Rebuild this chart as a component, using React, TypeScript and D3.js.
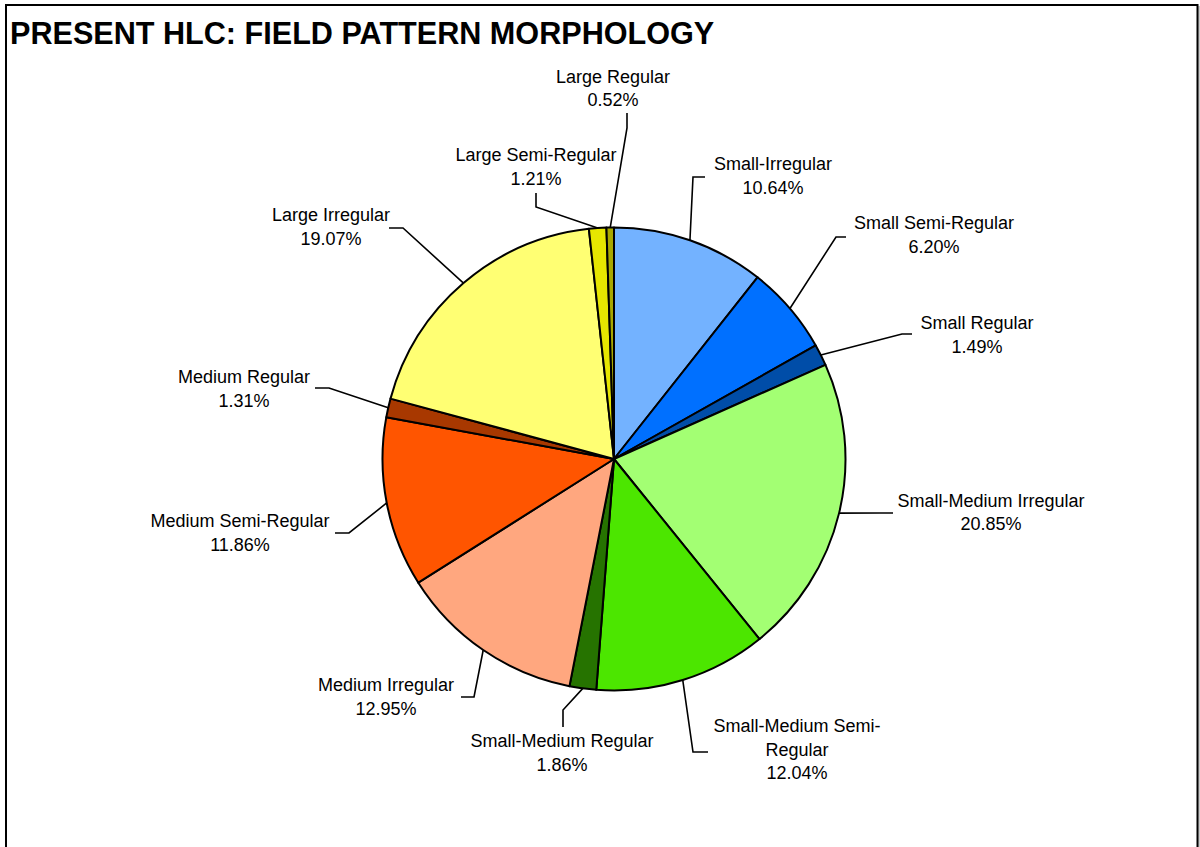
import React from "react";
import * as d3 from "d3";

// ---- data ----
const categories = [
  "Small-Irregular",
  "Small Semi-Regular",
  "Small Regular",
  "Small-Medium Irregular",
  "Small-Medium Semi-Regular",
  "Small-Medium Regular",
  "Medium Irregular",
  "Medium Semi-Regular",
  "Medium Regular",
  "Large Irregular",
  "Large Semi-Regular",
  "Large Regular",
];
const values = [10.64, 6.2, 1.49, 20.85, 12.04, 1.86, 12.95, 11.86, 1.31, 19.07, 1.21, 0.52];
const labelLines = [
  ["Small-Irregular"],
  ["Small Semi-Regular"],
  ["Small Regular"],
  ["Small-Medium Irregular"],
  ["Small-Medium Semi-", "Regular"],
  ["Small-Medium Regular"],
  ["Medium Irregular"],
  ["Medium Semi-Regular"],
  ["Medium Regular"],
  ["Large Irregular"],
  ["Large Semi-Regular"],
  ["Large Regular"],
];
const colors = [
  "#73B2FF", "#0070FF", "#004DA8",
  "#A3FF73", "#4CE600", "#267300",
  "#FFA77F", "#FF5500", "#A83800",
  "#FFFF73", "#E6E600", "#A8A800",
];
const title = "PRESENT HLC: FIELD PATTERN MORPHOLOGY";

// ---- layout (label placement, leader elbows) ----
const labelLayout: { x: number; y: number; pts: [number, number][] }[] = [
  { x: 773, y: 170, pts: [[705, 177], [693, 177]] },
  { x: 934, y: 229, pts: [[846, 237], [836, 237]] },
  { x: 977, y: 329, pts: [[912, 334], [902, 334]] },
  { x: 991, y: 506.5, pts: [[893, 513], [880, 513]] },
  { x: 797, y: 732, pts: [[708, 752], [693, 752]] },
  { x: 562, y: 747, pts: [[563, 727], [563, 710]] },
  { x: 386, y: 691, pts: [[461, 697], [474, 697]] },
  { x: 240, y: 527, pts: [[335, 533], [349, 533]] },
  { x: 244, y: 383, pts: [[315, 388], [329, 388]] },
  { x: 331, y: 221, pts: [[389, 228], [403, 228]] },
  { x: 536, y: 161, pts: [[536, 193], [536, 207]] },
  { x: 613, y: 82.5, pts: [[627, 113], [627, 128]] },
];

const W = 1200;
const H = 847;
const cx = 614;
const cy = 459;
const R = 231.5;
const lineH = 23.7;
const FONT = "Arial, 'Liberation Sans', sans-serif";

export default function App() {
  const pie = d3.pie<number>().sort(null).value((d) => d)(values);
  const arc = d3.arc<d3.PieArcDatum<number>>().innerRadius(0).outerRadius(R);
  const edgeArc = d3.arc<d3.PieArcDatum<number>>().innerRadius(R).outerRadius(R);
  const line = d3.line();

  return (
    <svg
      width={W}
      height={H}
      style={{ position: "absolute", left: 0, top: 0, background: "#fff" }}
      fontFamily={FONT}
    >
      <rect x={0} y={0} width={W} height={H} fill="#fff" />
      <line x1={1199} y1={6} x2={1199} y2={H} stroke="#999" strokeWidth={1} />
      <rect x={6} y={5} width={1191.5} height={H + 20} fill="none" stroke="#000" strokeWidth={2} />
      <text x={10} y={44} fontSize={30.6} fontWeight="bold" fill="#000">
        {title}
      </text>
      <g transform={`translate(${cx},${cy})`}>
        {pie.map((p, i) => (
          <path key={categories[i]} d={arc(p) || ""} fill={colors[i]} stroke="#000" strokeWidth={2} strokeLinejoin="round" />
        ))}
      </g>
      {pie.map((p, i) => {
        const [ex, ey] = edgeArc.centroid(p);
        const lay = labelLayout[i];
        const pts: [number, number][] = [...lay.pts, [cx + ex, cy + ey]];
        const lines = [...labelLines[i], values[i].toFixed(2) + "%"];
        return (
          <g key={"l" + i}>
            <path d={line(pts) || ""} fill="none" stroke="#000" strokeWidth={1.6} />
            <text x={lay.x} textAnchor="middle" fontSize={18} fill="#000">
              {lines.map((t, j) => (
                <tspan key={j} x={lay.x} y={lay.y + j * lineH}>
                  {t}
                </tspan>
              ))}
            </text>
          </g>
        );
      })}
    </svg>
  );
}
